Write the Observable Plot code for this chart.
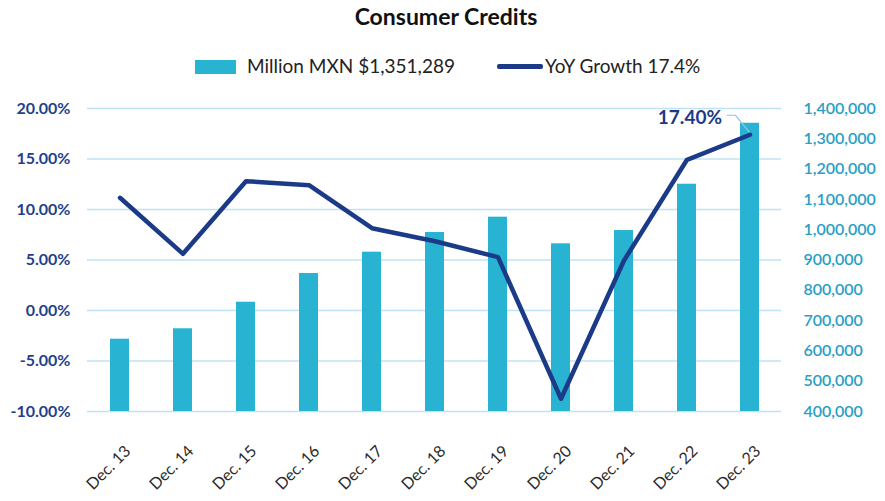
<!DOCTYPE html>
<html>
<head>
<meta charset="utf-8">
<script src="https://cdn.jsdelivr.net/npm/d3@7"></script>
<script src="https://cdn.jsdelivr.net/npm/@observablehq/plot@0.6"></script>
<style>
  html, body { margin: 0; padding: 0; background: #fff; }
  #wrap { position: relative; width: 885px; height: 501px; font-family: Lato, "Open Sans", sans-serif; }
  #header { position: relative; width: 885px; height: 85px; }
  #title { position: absolute; left: 0; width: 892px; top: 2px; text-align: center; font-weight: bold; font-size: 23px; color: #111; }
  .leg { position: absolute; top: 54px; font-size: 19px; color: #222; white-space: nowrap; }
  .sw { position: absolute; }
  #chart svg { display: block; }
</style>
</head>
<body>
<div id="wrap">
  <div id="header">
    <div id="title">Consumer Credits</div>
    <div class="sw" style="left:195px; top:60px; width:41px; height:14px; background:#29b3d2;"></div>
    <div class="leg" style="left:247px;">Million MXN $1,351,289</div>
    <div class="sw" style="left:497px; top:64px; width:46px; height:5px; background:#1b3a87; border-radius:2px;"></div>
    <div class="leg" style="left:545px;">YoY Growth 17.4%</div>
  </div>
  <div id="chart"></div>
</div>
<script>
const categories = ["Dec. 13","Dec. 14","Dec. 15","Dec. 16","Dec. 17","Dec. 18","Dec. 19","Dec. 20","Dec. 21","Dec. 22","Dec. 23"];
const credits = [638600, 673000, 760700, 855400, 925800, 990700, 1041300, 953400, 997300, 1150000, 1351289];
const growth = [11.16, 5.61, 12.8, 12.41, 8.15, 6.86, 5.28, -8.74, 4.95, 14.92, 17.4];
const pctTicks = [-10, -5, 0, 5, 10, 15, 20];
const creditTicks = [400000, 500000, 600000, 700000, 800000, 900000, 1000000, 1100000, 1200000, 1300000, 1400000];
const annotationText = "17.40%";

// map credits (right axis) into the percent (left axis) space
const cMin = 400000, cMax = 1400000, pMin = -10, pMax = 20;
const toPct = v => pMin + (v - cMin) / (cMax - cMin) * (pMax - pMin);
const fromPct = p => cMin + (p - pMin) / (pMax - pMin) * (cMax - cMin);

const rows = categories.map((c, i) => ({cat: c, credit: credits[i], creditPct: toPct(credits[i]), growth: growth[i]}));
const last = rows[rows.length - 1];

const leader = (index, scales) => {
  const x = scales.x(last.cat) + scales.x.bandwidth() / 2;
  const y = scales.y(last.growth);
  const p = d3.create("svg:path")
    .attr("d", `M${x - 23},${y - 19}L${x - 14},${y - 19}L${x},${y - 2}`)
    .attr("fill", "none").attr("stroke", "#8cc6ea").attr("stroke-width", 1.2);
  return p.node();
};

const plot = Plot.plot({
  width: 885,
  height: 416,
  marginTop: 23,
  marginBottom: 90,
  marginLeft: 87,
  marginRight: 104,
  style: {fontFamily: "Lato, 'Open Sans', sans-serif", background: "#fff"},
  x: {type: "band", domain: categories, paddingInner: 0.7, paddingOuter: 0.35},
  y: {domain: [pMin, pMax], nice: false},
  marks: [
    Plot.gridY(pctTicks, {stroke: "#bfe2f5", strokeOpacity: 1, strokeWidth: 1.3}),
    Plot.barY(rows, {x: "cat", y1: pMin, y2: "creditPct", fill: "#29b3d2"}),
    Plot.line(rows, {x: "cat", y: "growth", stroke: "#1b3a87", strokeWidth: 4.5, strokeLinejoin: "round", strokeLinecap: "round"}),
    leader,
    Plot.text([last], {x: "cat", y: "growth", text: () => annotationText, dx: -28, dy: -17, textAnchor: "end",
      fontSize: 19, fontWeight: "bold", fill: "#1b3a87"}),
    Plot.axisY(pctTicks, {anchor: "left", tickSize: 0, tickPadding: 17, tickFormat: d => d.toFixed(2) + "%",
      fontSize: 16, fontWeight: "bold", fill: "#1f3f8c", label: null}),
    Plot.axisY(creditTicks.map(toPct), {anchor: "right", tickSize: 0, tickPadding: 22,
      tickFormat: d => d3.format(",")(Math.round(fromPct(d) / 1000) * 1000),
      fontSize: 16, fontWeight: 600, fill: "#2a9fc5", label: null}),
    Plot.axisX({tickSize: 0, tickRotate: -45, tickPadding: 37, dx: 8, fontSize: 16, fill: "#2b2b2b", label: null})
  ]
});
document.getElementById("chart").appendChild(plot);
</script>
</body>
</html>
